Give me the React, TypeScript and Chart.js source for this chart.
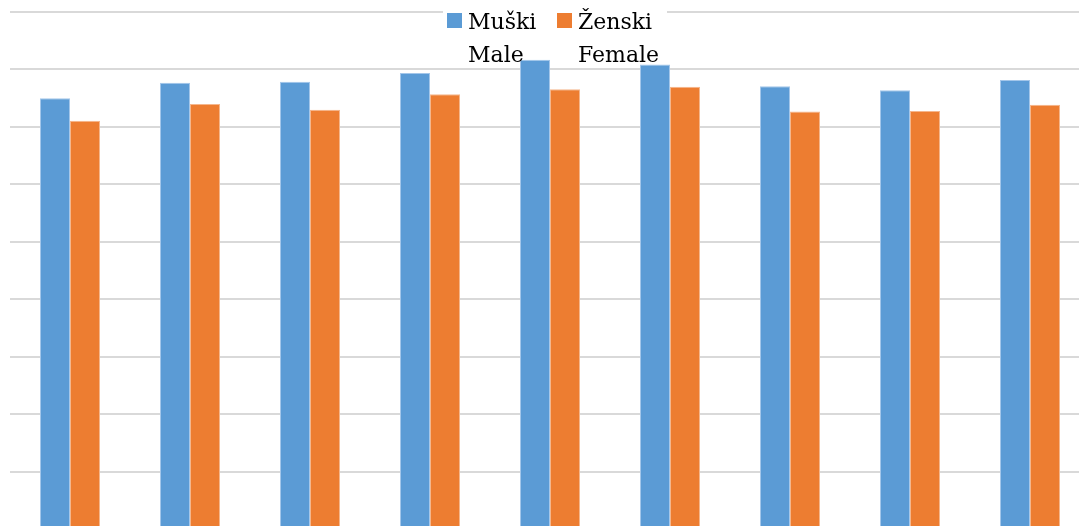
import React, { useEffect, useRef } from "react";
import { Chart, registerables } from "chart.js";

Chart.register(...registerables);

const categories = ["1", "2", "3", "4", "5", "6", "7", "8", "9"];
const maleValues = [74.9, 77.6, 77.8, 79.3, 81.6, 80.8, 77.0, 76.3, 78.1];
const femaleValues = [71.0, 73.9, 72.9, 75.6, 76.5, 76.9, 72.6, 72.7, 73.8];
const legendLabels = [
  ["Muški", "Male"],
  ["Ženski", "Female"],
];
const seriesColors = ["#5B9BD5", "#ED7D31"];
const seriesBorders = ["#a3c6ea", "#f5b68c"];
const yMin = 0;
const yMax = 90;
const yStep = 10;

const legendPlugin = {
  id: "customLegend",
  beforeDatasetsDraw(chart: any) {
    const ctx = chart.ctx;
    ctx.save();
    ctx.fillStyle = "#ffffff";
    ctx.fillRect(443, 0, 224, 66);
    ctx.restore();
  },
  afterDraw(chart: any) {
    const ctx = chart.ctx;
    ctx.save();
    const starts = [447, 557];
    ctx.font = '22px "DejaVu Serif"';
    ctx.textBaseline = "alphabetic";
    legendLabels.forEach((lines, i) => {
      const x = starts[i];
      ctx.fillStyle = seriesColors[i];
      ctx.fillRect(x, 13, 15, 15);
      ctx.fillStyle = "#000000";
      lines.forEach((t, j) => {
        ctx.fillText(t, x + 21, 29 + j * 32.5);
      });
    });
    ctx.restore();
  },
};

export default function App() {
  const ref = useRef<HTMLCanvasElement | null>(null);
  useEffect(() => {
    if (!ref.current) return;
    const chart = new Chart(ref.current, {
      type: "bar",
      data: {
        labels: categories,
        datasets: [
          {
            label: legendLabels[0].join(" "),
            data: maleValues,
            backgroundColor: seriesColors[0],
            borderColor: seriesBorders[0],
            borderWidth: 1,
            categoryPercentage: 0.5,
            barPercentage: 1,
          },
          {
            label: legendLabels[1].join(" "),
            data: femaleValues,
            backgroundColor: seriesColors[1],
            borderColor: seriesBorders[1],
            borderWidth: 1,
            categoryPercentage: 0.5,
            barPercentage: 1,
          },
        ],
      },
      options: {
        animation: false,
        responsive: true,
        maintainAspectRatio: false,
        layout: { padding: { top: 11.5, left: 10, right: 0, bottom: 0 } },
        plugins: {
          legend: { display: false },
          tooltip: { enabled: false },
        },
        scales: {
          x: {
            display: false,
            grid: { display: false },
          },
          y: {
            min: yMin,
            max: yMax,
            ticks: { display: false, stepSize: yStep },
            grid: { color: "#d9d9d9", lineWidth: 2, drawTicks: false },
            border: { display: false },
          },
        },
      },
      plugins: [legendPlugin],
    });
    return () => chart.destroy();
  }, []);
  return (
    <>
      <style>{"html,body{margin:0;overflow:hidden;background:#fff}"}</style>
      <div style={{ position: "absolute", left: 0, top: 0, width: 1090, height: 529 }}>
        <canvas ref={ref} />
      </div>
    </>
  );
}
